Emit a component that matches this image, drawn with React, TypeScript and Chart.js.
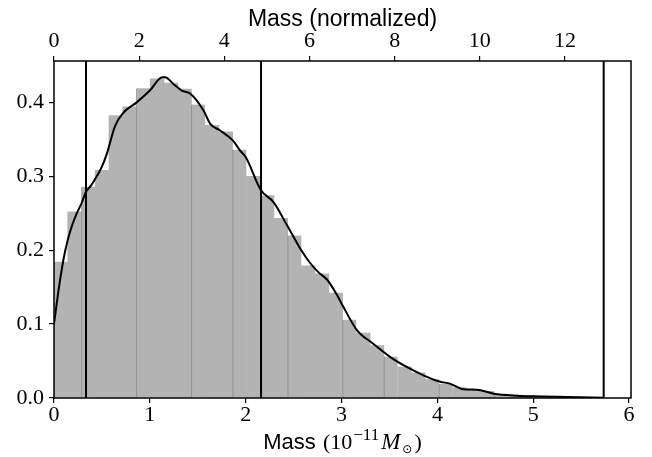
import React, { useEffect, useRef } from "react";
import { Chart, registerables } from "chart.js";

Chart.register(...registerables);

// ---- data ----
const BIN_WIDTH = 0.1434; // histogram bin width (bottom-axis units)
const histHeights = [
  0.184, 0.252, 0.286, 0.308, 0.382, 0.394, 0.419, 0.432, 0.426, 0.418,
  0.397, 0.369, 0.36, 0.336, 0.3, 0.274, 0.243, 0.22, 0.179, 0.168,
  0.142, 0.106, 0.088, 0.071, 0.056, 0.042, 0.034, 0.025, 0.019, 0.014,
  0.011, 0.009, 0.005, 0.004, 0.003, 0.002, 0.001, 0.0008, 0.0004, 0.0003,
];
// bins whose left edge shows a thin darker seam in the original rendering
const seamBins = [2, 6, 10, 13, 17, 21, 24, 28, 32];
const kdeX = [
  0, 0.05, 0.097, 0.14, 0.185, 0.235, 0.289, 0.334, 0.39, 0.446, 0.5, 0.55, 0.637, 0.724,
  0.863, 1.0, 1.13, 1.16, 1.245, 1.333, 1.42, 1.56, 1.63, 1.733, 1.87, 1.94, 2.0,
  2.16, 2.29, 2.43, 2.57, 2.67, 2.76, 2.85, 2.95, 3.02, 3.16, 3.33, 3.51, 3.68,
  3.855, 4.03, 4.13, 4.27, 4.41, 4.59, 4.83, 5.0, 5.35, 5.735,
];
const kdeY = [
  0.1, 0.148, 0.186, 0.212, 0.232, 0.249, 0.264, 0.279, 0.288, 0.3, 0.313, 0.33, 0.368, 0.386,
  0.4, 0.416, 0.434, 0.434, 0.425, 0.416, 0.412, 0.389, 0.371, 0.362, 0.348, 0.335, 0.326,
  0.281, 0.265, 0.234, 0.202, 0.183, 0.17, 0.16, 0.14, 0.123, 0.092, 0.0735, 0.0554, 0.042,
  0.0307, 0.022, 0.0195, 0.0118, 0.0112, 0.0059, 0.0032, 0.0023, 0.0014, 0.0005,
];
const markerLines = [0.334, 2.16, 5.735];
const X_MAX = 6.02;
const X2_MAX = 13.55;
const Y_MAX = 0.456;
const Y_STEP = 0.1;
const X_STEP = 1;
const X2_STEP = 2;
const topTitle = "Mass (normalized)";
const bottomTitleRuns = ["Mass ", "(10", "\u221211", "M", "\u2299", ")"];

const SERIF = "'Liberation Serif', 'DejaVu Serif', serif";
const SANS = "'Liberation Sans', Arial, sans-serif";

const framePlugin = {
  id: "frameAndLabel",
  afterDraw(chart: any) {
    const { ctx, chartArea: a } = chart;
    ctx.save();
    ctx.strokeStyle = "#000";
    ctx.lineWidth = 1.5;
    ctx.strokeRect(a.left, a.top, a.right - a.left, a.bottom - a.top);

    const styles = [
      { font: `22px ${SANS}`, dy: 0, gap: 0 },
      { font: `22px ${SERIF}`, dy: 0, gap: 1 },
      { font: `17px ${SERIF}`, dy: -9, gap: 1 },
      { font: `italic 23px ${SERIF}`, dy: 0, gap: 2 },
      { font: `12px 'DejaVu Sans', sans-serif`, dy: 4, gap: 2 },
      { font: `22px ${SERIF}`, dy: 0, gap: 2 },
    ];
    const widths = bottomTitleRuns.map((t, i) => {
      ctx.font = styles[i].font;
      return ctx.measureText(t).width + styles[i].gap;
    });
    const total = widths.reduce((s, w) => s + w, 0);
    let x = (a.left + a.right) / 2 - total / 2;
    const baseline = 449;
    ctx.fillStyle = "#000";
    ctx.textBaseline = "alphabetic";
    ctx.textAlign = "left";
    bottomTitleRuns.forEach((t, i) => {
      ctx.font = styles[i].font;
      x += styles[i].gap;
      ctx.fillText(t, x, baseline + styles[i].dy);
      x += widths[i] - styles[i].gap;
    });
    ctx.restore();
  },
};

export default function App() {
  const ref = useRef<HTMLCanvasElement | null>(null);

  useEffect(() => {
    if (!ref.current) return;
    const histData = histHeights.map((h, i) => ({ x: (i + 0.5) * BIN_WIDTH, y: h }));
    const kdeData = kdeX.map((x, i) => ({ x, y: kdeY[i] }));
    const lineSets = markerLines.map((v) => ({
      type: "line" as const,
      data: [
        { x: v, y: 0 },
        { x: v, y: Y_MAX },
      ],
      borderColor: "#000",
      borderWidth: 2,
      pointRadius: 0,
      tension: 0,
      order: 0,
      xAxisID: "x",
      yAxisID: "y",
    }));

    const tickGrid = {
      display: true,
      drawOnChartArea: false,
      drawTicks: true,
      tickLength: 5,
      color: "#000",
      lineWidth: 1.2,
      offset: false,
    };
    const tickFont = { family: SERIF, size: 22, lineHeight: 1 };

    const chart = new Chart(ref.current, {
      type: "bar",
      data: {
        datasets: [
          {
            type: "bar",
            data: histData,
            backgroundColor: "#b3b3b3",
            borderColor: "#8a8a8a",
            borderWidth: (c: any) =>
              seamBins.includes(c.dataIndex) ? { left: 1, top: 0, right: 0, bottom: 0 } : 0,
            borderSkipped: false,
            barPercentage: 1,
            categoryPercentage: 1,
            order: 2,
            xAxisID: "x",
            yAxisID: "y",
          } as any,
          {
            type: "line",
            data: kdeData,
            borderColor: "#000",
            borderWidth: 2,
            pointRadius: 0,
            cubicInterpolationMode: "monotone",
            order: 1,
            xAxisID: "x",
            yAxisID: "y",
          } as any,
          ...lineSets,
        ],
      },
      options: {
        animation: false,
        responsive: false,
        devicePixelRatio: 1,
        layout: { padding: { left: 0, right: 21, top: 0, bottom: 0 } },
        plugins: {
          legend: { display: false },
          tooltip: { enabled: false },
          title: { display: false },
        },
        scales: {
          x: {
            type: "linear",
            position: "bottom",
            min: 0,
            max: X_MAX,
            offset: false,
            grid: tickGrid,
            border: { display: false },
            ticks: {
              stepSize: X_STEP,
              includeBounds: false,
              color: "#000",
              font: tickFont,
              padding: 1.5,
              maxRotation: 0,
              callback: (v: any) => String(v),
            },
            afterFit: (s: any) => {
              s.height = 59;
            },
          },
          x2: {
            type: "linear",
            position: "top",
            min: 0,
            max: X2_MAX,
            offset: false,
            grid: tickGrid,
            border: { display: false },
            ticks: {
              stepSize: X2_STEP,
              includeBounds: false,
              color: "#000",
              font: tickFont,
              padding: 4,
              maxRotation: 0,
              callback: (v: any) => String(v),
            },
            title: {
              display: true,
              text: topTitle,
              color: "#000",
              font: { family: SANS, size: 23, lineHeight: 1.2 },
              padding: { top: 6, bottom: 0 },
            },
            afterFit: (s: any) => {
              s.height = 61;
            },
          },
          y: {
            type: "linear",
            position: "left",
            min: 0,
            max: Y_MAX,
            grid: tickGrid,
            border: { display: false },
            ticks: {
              stepSize: Y_STEP,
              includeBounds: false,
              color: "#000",
              font: tickFont,
              padding: 5,
              callback: (v: any) => Number(v).toFixed(1),
            },
            afterFit: (s: any) => {
              s.width = 54;
            },
          },
        },
      } as any,
      plugins: [framePlugin],
    });
    return () => chart.destroy();
  }, []);

  return (
    <div style={{ position: "absolute", left: 0, top: 0, width: 652, height: 457, background: "#fff" }}>
      <canvas ref={ref} width={652} height={457} style={{ display: "block", width: 652, height: 457 }} />
    </div>
  );
}
